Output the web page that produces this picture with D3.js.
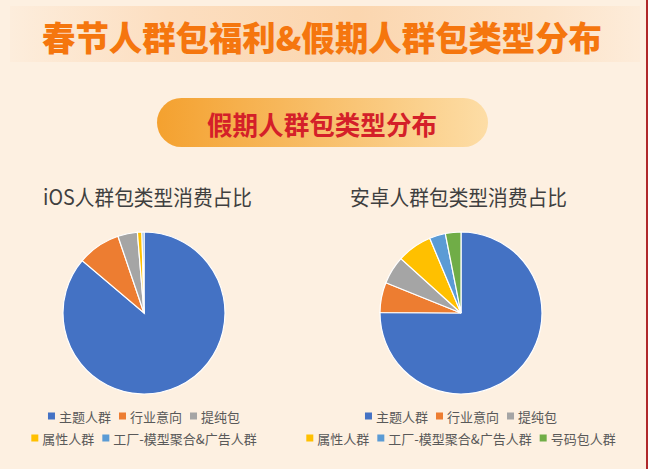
<!DOCTYPE html>
<html>
<head>
<meta charset="utf-8">
<script src="https://cdn.jsdelivr.net/npm/d3@7"></script>
<style>
  html, body { margin: 0; padding: 0; background: #FDF0E1; }
  svg { display: block; }
  text { font-family: "Noto Sans CJK SC", "Noto Sans", sans-serif; }
</style>
</head>
<body>
<svg id="chart" width="648" height="469"></svg>
<script>
// ---- data ----
const mainTitle = "春节人群包福利&假期人群包类型分布";
const bannerTitle = "假期人群包类型分布";
const iosTitle = "iOS人群包类型消费占比";
const androidTitle = "安卓人群包类型消费占比";

const iosCategories = ["主题人群", "行业意向", "提纯包", "属性人群", "工厂-模型聚合&广告人群"];
const iosValues = [86.2, 8.6, 3.9, 0.9, 0.4];

const androidCategories = ["主题人群", "行业意向", "提纯包", "属性人群", "工厂-模型聚合&广告人群", "号码包人群"];
const androidValues = [75.1, 6.0, 5.6, 7.0, 3.2, 3.1];

const palette = ["#4472C4", "#ED7D31", "#A5A5A5", "#FFC000", "#5B9BD5", "#70AD47"];

// ---- drawing ----
const W = 648, H = 469;
const svg = d3.select("#chart");
const defs = svg.append("defs");

svg.append("rect").attr("width", W).attr("height", H).attr("fill", "#FDF0E1");

// title band gradient
const g1 = defs.append("linearGradient").attr("id", "band").attr("x1", "0%").attr("x2", "100%");
g1.append("stop").attr("offset", "0%").attr("stop-color", "#FDEDDC");
g1.append("stop").attr("offset", "25%").attr("stop-color", "#FCDEC0");
g1.append("stop").attr("offset", "55%").attr("stop-color", "#FBD6AF");
g1.append("stop").attr("offset", "85%").attr("stop-color", "#FCE3C8");
g1.append("stop").attr("offset", "100%").attr("stop-color", "#FDECDA");
svg.append("rect").attr("x", 10).attr("y", 6).attr("width", 630).attr("height", 56)
  .attr("fill", "url(#band)");

svg.append("text").attr("x", 322).attr("y", 36)
  .attr("text-anchor", "middle").attr("dominant-baseline", "central")
  .attr("font-size", 34).attr("font-weight", 900).attr("fill", "#F5760E")
  .attr("textLength", 560).attr("lengthAdjust", "spacingAndGlyphs")
  .text(mainTitle);

// banner pill
const g2 = defs.append("linearGradient").attr("id", "pill").attr("x1", "0%").attr("x2", "100%");
g2.append("stop").attr("offset", "0%").attr("stop-color", "#F4A12F");
g2.append("stop").attr("offset", "50%").attr("stop-color", "#F8BF6A");
g2.append("stop").attr("offset", "100%").attr("stop-color", "#FDDDA6");
svg.append("rect").attr("x", 157).attr("y", 98).attr("width", 331).attr("height", 49)
  .attr("rx", 24.5).attr("fill", "url(#pill)");
svg.append("text").attr("x", 322).attr("y", 123)
  .attr("text-anchor", "middle").attr("dominant-baseline", "central")
  .attr("font-size", 26).attr("font-weight", 700).attr("fill", "#D42029")
  .attr("textLength", 230).attr("lengthAdjust", "spacingAndGlyphs")
  .text(bannerTitle);

// right edge line
svg.append("rect").attr("x", 646).attr("y", 0).attr("width", 2).attr("height", H).attr("fill", "#B0282A");

function drawPie(cx, cy, r, title, titleX, titleW, cats, vals, rows) {
  svg.append("text").attr("x", titleX).attr("y", 196)
    .attr("dominant-baseline", "central")
    .attr("font-size", 21).attr("fill", "#3F3F3F")
    .attr("textLength", titleW).attr("lengthAdjust", "spacingAndGlyphs")
    .text(title);

  const data = cats.map((c, i) => ({ c, v: vals[i], i }));
  const pie = d3.pie().sort(null).value(d => d.v);
  const arc = d3.arc().innerRadius(0).outerRadius(r);
  svg.append("g").attr("transform", `translate(${cx},${cy})`)
    .selectAll("path").data(pie(data)).join("path")
    .attr("d", arc)
    .attr("fill", d => palette[d.data.i])
    .attr("stroke", "#FFFFFF").attr("stroke-width", 1.2);

  // legend rows
  const rowY = [416, 438];
  rows.forEach((row, ri) => {
    const g = svg.append("g");
    let x = 0;
    row.forEach(idx => {
      const item = g.append("g").attr("transform", `translate(${x},0)`);
      item.append("rect").attr("x", 0).attr("y", -3.5).attr("width", 7).attr("height", 7)
        .attr("fill", palette[idx]);
      const t = item.append("text").attr("x", 11).attr("y", 0)
        .attr("dominant-baseline", "central")
        .attr("font-size", 13).attr("fill", "#595959")
        .text(cats[idx]);
      x += 11 + t.node().getComputedTextLength() + 8;
    });
    const total = x - 8;
    g.attr("transform", `translate(${cx - total / 2},${rowY[ri]})`);
  });
}

drawPie(144, 313, 81, iosTitle, 43, 209, iosCategories, iosValues, [[0, 1, 2], [3, 4]]);
drawPie(461, 313, 81, androidTitle, 350, 217, androidCategories, androidValues, [[0, 1, 2], [3, 4, 5]]);
</script>
</body>
</html>
